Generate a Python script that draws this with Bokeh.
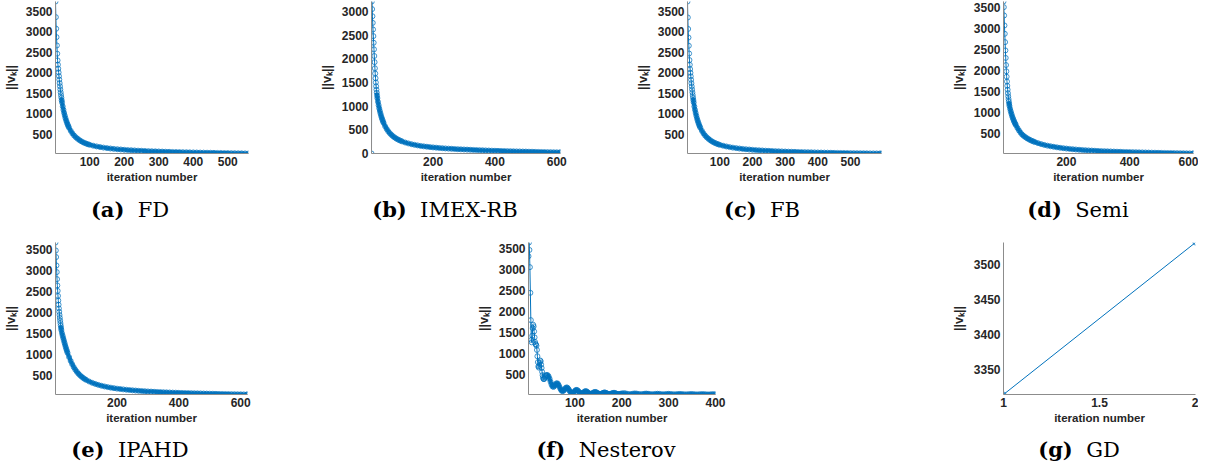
from bokeh.plotting import figure
from bokeh.layouts import row, column
from bokeh.models import Range1d, FixedTicker, NumeralTickFormatter, Div, Spacer
from bokeh.embed import file_html
from bokeh.resources import INLINE

# ---------------- data ----------------
FD_iter = [*range(1, 21), *range(22, 41, 2), *range(45, 101, 5), *range(110, 561, 10)]
FD_val = [3744, 3361, 3078, 2873, 2670, 2468, 2305, 2200, 2100, 2010, 1920, 1835, 1750, 1672, 1597, 1525, 1457, 1392, 1330, 1275,
          1180, 1095, 1020, 952, 890, 835, 785, 740, 700, 662,
          585, 520, 467, 425, 390, 358, 330, 307, 287, 270, 255, 242,
          220, 202, 186, 173, 161, 151, 142, 134, 127, 120, 114, 109, 104, 99, 95, 91, 87, 84, 81, 78,
          75, 72, 70, 67, 65, 63, 61, 59, 57, 55, 53, 51, 50, 48, 46, 45, 43, 42, 40, 39, 37, 36, 34, 33, 31, 29]

IMEX_iter = [*range(1, 21), *range(22, 41, 2), *range(45, 101, 5), *range(110, 611, 10), 612]
IMEX_val = [0, 3211, 3050, 2900, 2760, 2620, 2480, 2340, 2200, 2060, 1930, 1800, 1690, 1590, 1500, 1420, 1350, 1285, 1225, 1170,
            1090, 1020, 955, 898, 846, 798, 755, 716, 680, 647,
            575, 518, 470, 430, 396, 367, 342, 320, 301, 284, 269, 255,
            232, 213, 197, 183, 171, 160, 151, 143, 135, 129, 123, 117, 112, 107, 103, 99, 95, 91, 88, 85,
            82, 79, 76, 73, 70, 68, 65, 63, 60, 58, 56, 54, 52, 50, 48, 46, 44, 43, 41, 40,
            38, 37, 35, 34, 32, 31, 29, 28, 26, 25, 23, 22]

FB_iter = [*range(1, 21), *range(22, 41, 2), *range(45, 101, 5), *range(110, 591, 10), 595]
FB_val = [3740, 3350, 3070, 2860, 2660, 2470, 2310, 2195, 2090, 2000, 1912, 1828, 1745, 1668, 1594, 1523, 1455, 1390, 1330, 1274,
          1178, 1093, 1018, 950, 889, 834, 784, 739, 699, 661,
          584, 519, 466, 424, 389, 357, 329, 306, 286, 269, 254, 241,
          219, 201, 185, 172, 160, 150, 141, 133, 126, 119, 113, 108, 103, 98, 94, 90, 86, 83, 80, 77,
          74, 71, 69, 66, 64, 62, 60, 58, 56, 54, 52, 50, 49, 47, 45, 44, 42, 41, 40, 38,
          37, 36, 35, 34, 33, 32, 31, 30, 29.5, 29]

SEMI_iter = [*range(1, 21), *range(22, 41, 2), *range(45, 101, 5), *range(110, 601, 10), 602]
SEMI_val = [3650, 3514, 3316, 3077, 2878, 2678, 2480, 2300, 2130, 1980, 1850, 1735, 1632, 1540, 1457, 1382, 1315, 1255, 1200, 1150,
            1080, 1020, 965, 915, 870, 830, 792, 757, 725, 695,
            625, 565, 512, 466, 435, 405, 380, 358, 338, 320, 304, 289,
            262, 239, 219, 202, 187, 174, 162, 151, 141, 132, 124, 117, 110, 104, 98, 93, 88, 84, 80, 76,
            72, 69, 66, 63, 60, 57, 55, 52, 50, 48, 46, 44, 42, 40, 38, 36, 34, 33, 31, 29,
            28, 26, 25, 23, 22, 20, 19, 17, 16, 15, 14]

IPAHD_iter = [*range(1, 21), *range(22, 41, 2), *range(45, 101, 5), *range(110, 621, 10), 622]
IPAHD_val = [3674, 3483, 3326, 3126, 2968, 2800, 2650, 2520, 2400, 2290, 2190, 2100, 2020, 1945, 1875, 1810, 1750, 1690, 1635, 1585,
             1510, 1450, 1395, 1340, 1285, 1230, 1180, 1130, 1085, 1040,
             940, 850, 770, 700, 640, 590, 545, 508, 475, 446, 420, 397,
             358, 326, 299, 276, 256, 239, 224, 211, 199, 188, 179, 170, 162, 155, 148, 142, 136, 131, 126, 121,
             117, 113, 109, 106, 102, 99, 96, 93, 91, 88, 86, 83, 81, 79, 77, 75, 73, 71, 69, 67,
             66, 64, 62, 61, 59, 58, 56, 55, 53, 52, 50, 49, 48]

NEST_iter = [*range(1, 41), *range(42, 201, 2), *range(204, 401, 4)]
NEST_val = [3310, 3637, 3460, 3050, 2440, 1790, 1320, 1260, 1420, 1600, 1680, 1640, 1520, 1380, 1270, 1220, 1210, 1180, 1080, 930,
            790, 690, 660, 700, 780, 830, 810, 730, 650, 560, 480, 420, 390, 385, 400, 425, 450, 468, 478, 482,
            480, 450, 395, 325, 260, 215, 200, 215, 250, 280, 288, 270, 230, 180, 135, 108, 100, 112, 140, 172,
            188, 182, 155, 118, 84, 62, 54, 60, 80, 106, 126, 130, 117, 92, 67, 49, 42, 47, 63, 85,
            99, 98, 86, 66, 48, 38, 35, 41, 54, 69, 79, 80, 71, 56, 43, 35, 32, 36, 46, 58,
            67, 68, 61, 49, 38, 31, 29, 33, 42, 52, 58, 59, 53, 43, 34, 29, 27, 30, 37, 45,
            52, 47, 35, 27, 30, 40, 46, 41, 31, 26, 29, 37, 42, 38, 29, 25, 27, 34, 38, 35,
            27, 24, 26, 32, 35, 32, 26, 23, 25, 30, 33, 30, 25, 22, 24, 28, 31, 28, 24, 21,
            23, 27, 29, 27, 23, 20, 22, 26, 27, 25]

GD_iter = [1, 2]
GD_val = [3313.5, 3532]

TICKS_X_100 = [100, 200, 300, 400, 500]
TICKS_X_200 = [200, 400, 600]
TICKS_X_NEST = [100, 200, 300, 400]
TICKS_X_GD = [1, 1.5, 2]
TICKS_Y_500 = [500, 1000, 1500, 2000, 2500, 3000, 3500]
TICKS_Y_0 = [0, 500, 1000, 1500, 2000, 2500, 3000]
TICKS_Y_GD = [3350, 3400, 3450, 3500]

CAPTIONS = [("a", "FD"), ("b", "IMEX-RB"), ("c", "FB"), ("d", "Semi"),
            ("e", "IPAHD"), ("f", "Nesterov"), ("g", "GD")]

# ---------------- styling ----------------
BLUE = "#0072BD"
TXT = "#262626"
AXC = "#8c8c8c"
SANS = "Liberation Sans"


def panel(xs, ys, xticks, yticks, width, height, mbl, mbr, mbt, mbb, band_from=None, xfmt=None):
    p = figure(width=width, height=height, output_backend="svg", toolbar_location=None,
               x_range=Range1d(min(xs), max(xs)), y_range=Range1d(min(ys), max(ys)),
               min_border_left=mbl, min_border_right=mbr, min_border_top=mbt, min_border_bottom=mbb)
    p.outline_line_color = None
    p.grid.visible = False
    p.line(xs, ys, line_color=BLUE, line_width=1)
    if band_from is not None:
        bx = [x for x in xs if x >= band_from]
        by = [y for x, y in zip(xs, ys) if x >= band_from]
        p.line(bx, by, line_color=BLUE, line_width=4, line_alpha=0.95)
    p.scatter(xs, ys, marker="circle", size=5, fill_color=None, line_color=BLUE,
              line_width=1, line_alpha=0.75)
    p.xaxis.ticker = FixedTicker(ticks=xticks)
    p.yaxis.ticker = FixedTicker(ticks=yticks)
    if xfmt is not None:
        p.xaxis.formatter = xfmt
    p.xaxis.axis_label = "iteration number"
    p.yaxis.axis_label = "||vₖ||"
    for ax in (p.xaxis[0], p.yaxis[0]):
        ax.axis_line_color = AXC
        ax.axis_line_width = 1
        ax.major_tick_line_color = None
        ax.minor_tick_line_color = None
        ax.major_tick_out = 0
        ax.major_tick_in = 0
        ax.major_label_text_font = SANS
        ax.major_label_text_font_style = "bold"
        ax.major_label_text_font_size = "12px"
        ax.major_label_text_color = TXT
        ax.axis_label_text_font = SANS
        ax.axis_label_text_font_style = "bold"
        ax.axis_label_text_font_size = "11.5px"
        ax.axis_label_text_color = TXT
    p.yaxis.axis_label_text_font_size = "12.5px"
    p.xaxis.major_label_standoff = 3
    p.xaxis.axis_label_standoff = 2
    p.yaxis.major_label_standoff = 3
    p.yaxis.axis_label_standoff = 5
    return p


def caption(idx, width, height, cx, cy):
    letter, name = CAPTIONS[idx]
    html = (f'<div style="width:240px;margin-left:{cx - 120}px;margin-top:{cy - 12}px;'
            f'text-align:center;font-family:\'DejaVu Serif\';font-size:21px;line-height:24px;'
            f'color:#000;white-space:nowrap"><b>({letter})</b>&nbsp;&nbsp;{name}</div>')
    return Div(text=html, width=width, height=height, margin=0)


H1, H2 = 189, 200
pa = panel(FD_iter, FD_val, TICKS_X_100, TICKS_Y_500, 310, H1, 53, 62, 1, 36, band_from=18)
pb = panel(IMEX_iter, IMEX_val, TICKS_X_200, TICKS_Y_0, 315, H1, 61, 65, 1, 36, band_from=18)
pc = panel(FB_iter, FB_val, TICKS_X_100, TICKS_Y_500, 315, H1, 62, 59, 1, 36, band_from=18)
pd = panel(SEMI_iter, SEMI_val, TICKS_X_200, TICKS_Y_500, 258, H1, 63, 5, 1, 36, band_from=18)
pe = panel(IPAHD_iter, IPAHD_val, TICKS_X_200, TICKS_Y_500, 310, H2, 53, 63, 12, 36, band_from=18)
pf = panel(NEST_iter, NEST_val, TICKS_X_NEST, TICKS_Y_500, 340, H2, 88, 65, 12, 36, band_from=40)
pg = panel(GD_iter, GD_val, TICKS_X_GD, TICKS_Y_GD, 258, H2, 63, 3, 12, 36,
           xfmt=NumeralTickFormatter(format="0.[0]"))

ca = caption(0, 310, 41, 130, 21)
cb = caption(1, 315, 41, 135, 21)
cc = caption(2, 315, 41, 137, 21)
cd = caption(3, 258, 41, 138, 21)
ce = caption(4, 310, 31, 130, 20)
cf = caption(5, 340, 31, 166, 20)
cg = caption(6, 258, 31, 139, 20)

row1 = row(column(pa, ca, spacing=0), column(pb, cb, spacing=0),
           column(pc, cc, spacing=0), column(pd, cd, spacing=0), spacing=0)
row2 = row(column(pe, ce, spacing=0), Spacer(width=130, height=H2 + 31),
           column(pf, cf, spacing=0), Spacer(width=160, height=H2 + 31),
           column(pg, cg, spacing=0), spacing=0)
layout = column(row1, row2, spacing=0)

open("out.html", "w").write(file_html(layout, INLINE))
